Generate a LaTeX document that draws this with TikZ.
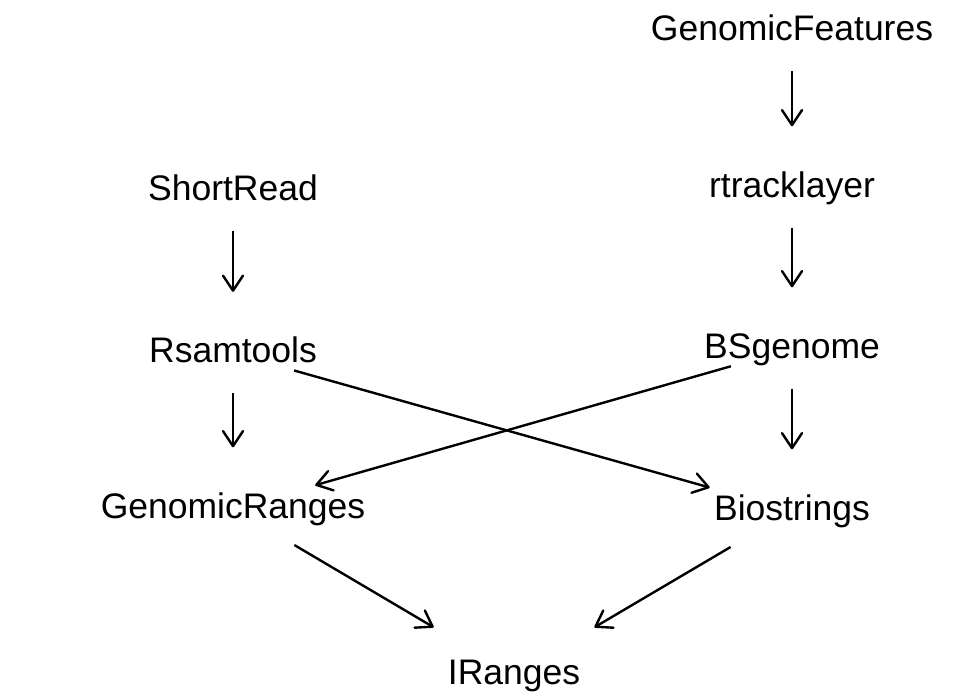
\documentclass[tikz,border=0pt]{standalone}
\usepackage{fontspec}
\setmainfont{Liberation Sans}
\usetikzlibrary{arrows.meta}

\begin{document}
\begin{tikzpicture}[x  = {(1pt,0pt)},
                    y  = {(0pt,-1pt)},
                    pkg/.style = {inner sep=0pt, anchor=base,
                                  text height=26pt, text depth=7.5pt,
                                  font=\fontsize{35.5}{40}\selectfont},
                    dep/.style = {line width=2.4pt,
                                  -{Straight Barb[length=15pt,width=20pt,round]},
                                  shorten <=23pt, shorten >=44.5pt}]
\useasboundingbox (0,0) rectangle (965,696);

% packages
\node[pkg] (gfeat) at (792,40.5) {GenomicFeatures};
\node[pkg] (rtrack) at (792,197) {rtracklayer};
\node[pkg] (sread) at (233,200.5) {ShortRead};
\node[pkg] (rsam) at (233,362.5) {Rsamtools};
\node[pkg] (bsgen) at (792,358) {BSgenome};
\node[pkg] (granges) at (233,518) {GenomicRanges};
\node[pkg] (bstr) at (792,520) {Biostrings};
\node[pkg] (iranges) at (514,684) {IRanges};

% depends on
\draw[dep] (gfeat) -- (rtrack);
\draw[dep] (rtrack) -- (bsgen);
\draw[dep] (sread) -- (rsam);
\draw[dep] (rsam) -- (granges);
\draw[dep] (bsgen) -- (bstr);

\draw[dep, shorten <=1pt, shorten >=23pt] (rsam) -- (bstr);
\draw[dep, shorten <=2pt, shorten >=24pt] (bsgen) -- (granges);

\draw[dep, shorten <=38pt, shorten >=60pt] (granges) -- (iranges);
\draw[dep, shorten <=38pt, shorten >=60pt] (bstr) -- (iranges);

\end{tikzpicture}
\end{document}
